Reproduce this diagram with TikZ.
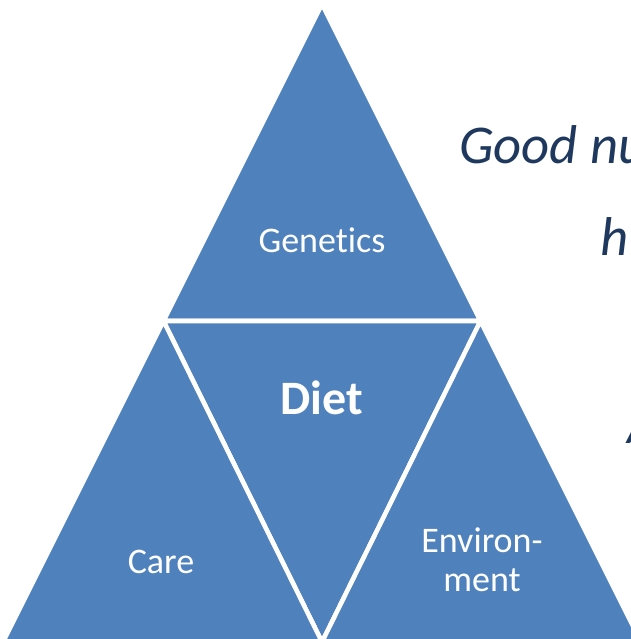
\documentclass[tikz,border=0pt]{standalone}
\usepackage{fontspec}
\setmainfont{Carlito}[Ligatures=CommonOff]
\definecolor{pyrblue}{RGB}{79,129,189}
\definecolor{captext}{RGB}{31,56,93}

\begin{document}
\begin{tikzpicture}[x=0.75pt,y=0.75pt,yscale=-1,xscale=1,
	piece/.style={fill=pyrblue,draw=white,line width=3.4pt,line join=miter},
	label/.style={text=white,inner sep=0pt,font=\fontsize{27pt}{29pt}\selectfont},
	bigcap/.style={text=captext,inner sep=0pt,anchor=base west,font=\fontsize{41pt}{43pt}\selectfont\itshape}]
	%set diagram to 631 x 639
	\useasboundingbox (0,0) rectangle (631,639);
	
	%Shape: Triangle [top]
	\draw [piece] (322,4) -- (480.5,321) -- (163.5,321) -- cycle ;
	%Shape: Triangle [middle, upside down]
	\draw [piece] (163.5,321) -- (480.5,321) -- (322,642) -- cycle ;
	%Shape: Triangle [left]
	\draw [piece] (163.5,321) -- (322,642) -- (3,642) -- cycle ;
	%Shape: Triangle [right]
	\draw [piece] (480.5,321) -- (641,642) -- (322,642) -- cycle ;
	
	% Text Node
	\node (genetics) [label,anchor=base] at (322,252) {Genetics};
	% Text Node
	\node (diet) [label,anchor=base,font=\fontsize{36pt}{38pt}\selectfont\bfseries] at (322,414) {Diet};
	% Text Node
	\node (care) [label,anchor=base] at (161,573) {Care};
	% Text Node
	\node (envir) [label,anchor=base] at (482,552) {Environ-};
	\node (ment) [label,anchor=base] at (482,591) {ment};
	
	% Text Node
	\node (good) [bigcap] at (459,163) {Good nu};
	\node (hline) [bigcap] at (600,255) {h};
	\node (aline) [bigcap] at (627,443) {A};
	
\end{tikzpicture}
\end{document}
